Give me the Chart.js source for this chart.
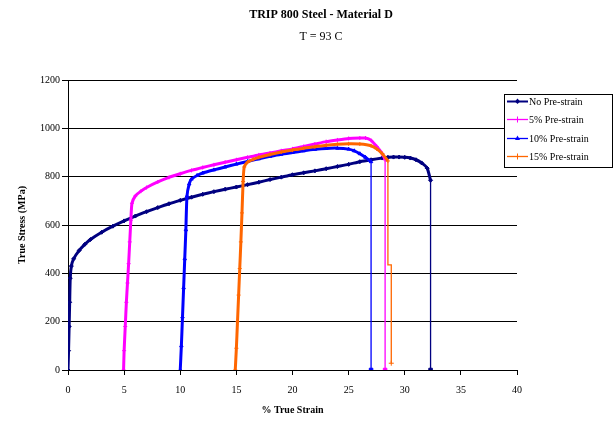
<!DOCTYPE html>
<html>
<head>
<meta charset="utf-8">
<script src="https://cdn.jsdelivr.net/npm/chart.js@4/dist/chart.umd.min.js"></script>
<style>
  html, body { margin: 0; padding: 0; background: #fff; }
  #wrap { width: 615px; height: 422px; position: relative; }
</style>
</head>
<body>
<div id="wrap"><canvas id="c" width="615" height="422"></canvas></div>
<script>
// -----------------------------
// Data
// -----------------------------
const seriesNames = ["No Pre-strain", "5% Pre-strain", "10% Pre-strain", "15% Pre-strain"];
const xTicks = [0, 5, 10, 15, 20, 25, 30, 35, 40];
const yTicks = [0, 200, 400, 600, 800, 1000, 1200];

const strain0 = [0, 0.05, 0.1, 0.15, 0.2, 0.3, 0.5, 1, 1.5, 2, 3, 4, 5, 6, 7, 8, 9, 10, 11, 12, 13, 14, 15, 16, 17, 18, 19, 20, 21, 22, 23, 24, 25, 26, 27, 28, 28.5, 29, 29.5, 30, 30.5, 31, 31.5, 32, 32.3];
const stress0 = [0, 80, 180, 280, 380, 430, 460, 495, 520, 540, 570, 595, 617, 637, 655, 672, 688, 702, 715, 727, 738, 748, 757, 767, 777, 788, 798, 808, 816, 824, 833, 842, 851, 862, 870, 877, 880, 881, 881, 880, 877, 870, 857, 835, 785];
const drop0x = [32.3, 32.3];
const drop0y = [785, 0];

const strain5 = [4.95, 5.0, 5.1, 5.2, 5.3, 5.4, 5.5, 5.6, 5.7, 6, 6.5, 7, 8, 9, 10, 11, 12, 13, 14, 15, 16, 17, 18, 19, 20, 21, 22, 23, 24, 25, 26, 26.5, 27, 27.5, 28, 28.25];
const stress5 = [0, 80, 180, 280, 360, 440, 530, 620, 690, 720, 740, 755, 778, 797, 812, 826, 838, 849, 860, 870, 880, 890, 898, 907, 915, 925, 935, 945, 952, 958, 960, 960, 950, 925, 895, 870];
const drop5x = [28.25, 28.25];
const drop5y = [870, 0];

const strain10 = [10.0, 10.1, 10.2, 10.3, 10.4, 10.5, 10.6, 10.8, 11, 11.5, 12, 13, 14, 15, 16, 17, 18, 19, 20, 21, 22, 23, 24, 25, 25.5, 26, 26.5, 27];
const stress10 = [0, 100, 220, 340, 460, 580, 720, 770, 790, 805, 815, 828, 840, 852, 863, 874, 884, 893, 900, 907, 913, 917, 918, 914, 907, 895, 880, 862];
const drop10x = [27, 27];
const drop10y = [862, 0];

const strain15 = [14.9, 15.0, 15.1, 15.2, 15.3, 15.4, 15.5, 15.6, 15.7, 16, 16.5, 17, 18, 19, 20, 21, 22, 23, 24, 25, 26, 27, 27.5, 28, 28.5];
const stress15 = [0, 90, 200, 310, 420, 530, 650, 780, 840, 860, 872, 880, 892, 902, 910, 918, 924, 930, 934, 936, 935, 928, 915, 895, 865];
const drop15x = [28.5, 28.5, 28.8, 28.8];
const drop15y = [865, 435, 435, 28];

const colors = ["#000080", "#ff00ff", "#0000ff", "#ff6600"];
const markers = ["rectRot", "cross", "triangle", "cross"];

function pts(xs, ys) {
    return xs.map((x, i) => ({ x: x, y: ys[i] }));
}

const mains = [[strain0, stress0], [strain5, stress5], [strain10, stress10], [strain15, stress15]];
const drops = [[drop0x, drop0y], [drop5x, drop5y], [drop10x, drop10y], [drop15x, drop15y]];

// later series sit on top, like the original
const datasets = [];
mains.forEach((m, i) => {
    datasets.push({
        label: seriesNames[i],
        data: pts(m[0], m[1]),
        order: 10 - i,
        showLine: true,
        borderColor: colors[i],
        backgroundColor: colors[i],
        borderWidth: 3,
        pointStyle: markers[i],
        pointRadius: 2,
        pointBorderWidth: 1,
        tension: 0.2
    });
});
drops.forEach((d, i) => {
    const n = d[0].length;
    datasets.push({
        label: "_drop" + i,
        data: pts(d[0], d[1]),
        order: 10 - i,
        showLine: true,
        borderColor: colors[i],
        backgroundColor: colors[i],
        borderWidth: 1.3,
        pointStyle: i === 3 ? "cross" : "rect",
        pointRadius: d[0].map((_, k) => (k === n - 1 ? 2.5 : 0)),
        pointBorderWidth: 1
    });
});

// -----------------------------
// Title + legend drawn on canvas
// -----------------------------
const decor = {
    id: "decor",
    afterDraw(chart) {
        const ctx = chart.ctx;
        ctx.save();
        ctx.fillStyle = "#000";
        ctx.textAlign = "center";
        ctx.textBaseline = "middle";
        ctx.font = "bold 12px 'Liberation Serif'";
        ctx.fillText("TRIP 800 Steel - Material D", 321, 15);
        ctx.font = "12px 'Liberation Serif'";
        ctx.fillText("T = 93 C", 321, 37);

        // legend box
        ctx.fillStyle = "#fff";
        ctx.fillRect(504, 94, 109, 74);
        ctx.strokeStyle = "#000";
        ctx.lineWidth = 1;
        ctx.strokeRect(504.5, 94.5, 108, 73);
        const rows = [101, 119, 138, 156];
        ctx.font = "10px 'Liberation Serif'";
        ctx.textAlign = "left";
        seriesNames.forEach((name, i) => {
            const y = rows[i];
            ctx.strokeStyle = colors[i];
            ctx.lineWidth = i === 0 ? 2 : 1.3;
            ctx.beginPath();
            ctx.moveTo(507, y + 0.5);
            ctx.lineTo(528, y + 0.5);
            ctx.stroke();
            ctx.fillStyle = colors[i];
            ctx.beginPath();
            if (i === 2) {
                ctx.moveTo(517.5, y - 2.5); ctx.lineTo(520, y + 2); ctx.lineTo(515, y + 2);
                ctx.closePath(); ctx.fill();
            } else if (i === 0) {
                ctx.moveTo(517.5, y - 2.5); ctx.lineTo(520, y + 0.5); ctx.lineTo(517.5, y + 3); ctx.lineTo(515, y + 0.5);
                ctx.closePath(); ctx.fill();
            } else {
                ctx.lineWidth = 1;
                ctx.moveTo(517.5, y - 2.5); ctx.lineTo(517.5, y + 3.5);
                ctx.stroke();
            }
            ctx.fillStyle = "#000";
            ctx.fillText(name, 529, y + 1);
        });
        ctx.restore();
    }
};

new Chart(document.getElementById("c"), {
    type: "scatter",
    data: { datasets: datasets },
    plugins: [decor],
    options: {
        responsive: false,
        animation: false,
        layout: { padding: { top: 80, right: 98, left: 0, bottom: 0 } },
        plugins: {
            legend: { display: false },
            title: { display: false },
            tooltip: { enabled: false }
        },
        scales: {
            x: {
                type: "linear",
                min: 0,
                max: 40,
                afterBuildTicks(axis) { axis.ticks = xTicks.map(v => ({ value: v })); },
                afterFit(axis) { axis.height = 52; },
                grid: { display: true, drawOnChartArea: false, color: "#000", tickLength: 5, tickWidth: 1 },
                border: { color: "#000", width: 1 },
                ticks: {
                    color: "#000",
                    font: { family: "Liberation Serif", size: 10 },
                    padding: 9,
                    maxRotation: 0,
                    callback: v => String(v)
                },
                title: {
                    display: true,
                    text: "% True Strain",
                    color: "#000",
                    font: { family: "Liberation Serif", size: 10, weight: "bold" },
                    padding: { top: 0, bottom: 6 }
                }
            },
            y: {
                type: "linear",
                min: 0,
                max: 1200,
                afterBuildTicks(axis) { axis.ticks = yTicks.map(v => ({ value: v })); },
                afterFit(axis) { axis.width = 68; },
                grid: { color: "#000", lineWidth: 1, tickLength: 6 },
                border: { color: "#000", width: 1 },
                ticks: {
                    color: "#000",
                    font: { family: "Liberation Serif", size: 10 },
                    padding: 2,
                    callback: v => String(v)
                },
                title: {
                    display: true,
                    text: "True Stress (MPa)",
                    color: "#000",
                    font: { family: "Liberation Serif", size: 10, weight: "bold" },
                    padding: { top: 16, bottom: 0 }
                }
            }
        }
    }
});
</script>
</body>
</html>
